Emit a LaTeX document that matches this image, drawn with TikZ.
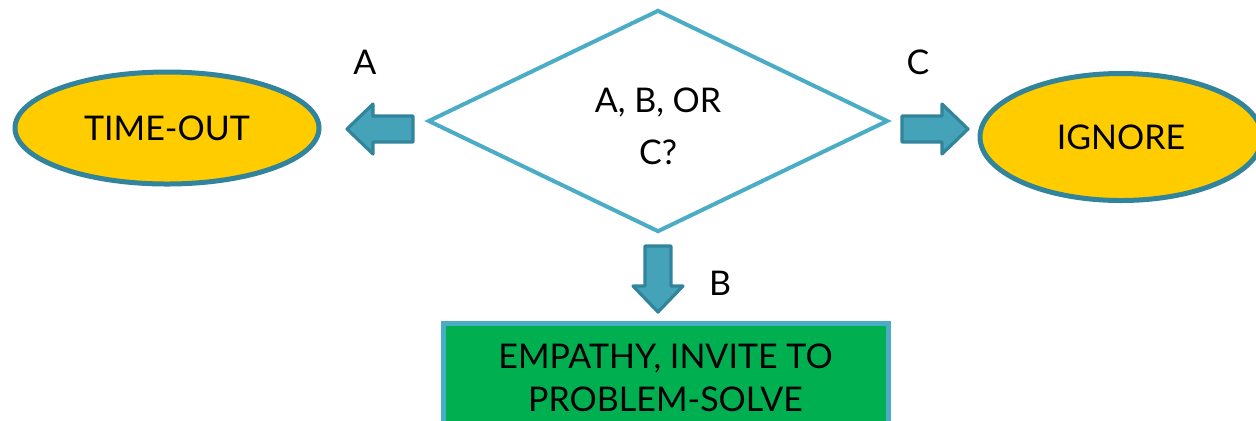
\documentclass[tikz,border=0pt]{standalone}
\usepackage{fontspec}
\setmainfont{Lato}
\usepackage{tikz}
\usetikzlibrary{shapes.geometric, positioning}
\definecolor{tealdark}{HTML}{31849B}
\definecolor{teallight}{HTML}{4BACC6}
\definecolor{tealfill}{HTML}{44A3B8}
\definecolor{gold}{HTML}{FFCC00}
\definecolor{grass}{HTML}{00B050}
\tikzset{
  choicebox/.style={diamond, draw=teallight, line width=2pt, fill=white, inner sep=0pt, align=center},
  actionoval/.style={ellipse, draw=tealdark, line width=2.5pt, fill=gold, inner sep=0pt},
  arrowline/.style={draw=tealdark, fill=tealfill, line width=1.6pt, line join=round},
  pics/blockarrow/.style={code={
    \draw[arrowline] (-16.5pt,-6.5pt) -- (3.5pt,-6.5pt) -- (3.5pt,-12.5pt) -- (16.5pt,0pt)
      -- (3.5pt,12.5pt) -- (3.5pt,6.5pt) -- (-16.5pt,6.5pt) -- cycle;}},
  pathlabel/.style={inner sep=0pt}
}

\begin{document}
\begin{tikzpicture}[x=0.5pt, y=-0.5pt, every node/.style={font=\fontsize{17}{26}\selectfont}]
        \useasboundingbox (0,0) rectangle (1256,420);
        % Decision
        \node (choice) [choicebox, minimum width=230pt, minimum height=111pt] at (658,121) {};
        \node (question) at (658,126) [align=center] {A, B, OR\\C?};
        % Outcomes
        \node (timeout) [actionoval, minimum width=152pt, minimum height=56pt] at (167,128) {TIME-OUT};
        \node (ignore) [actionoval, minimum width=141pt, minimum height=63.5pt] at (1121,137) {IGNORE};
        \node (solve) [draw=teallight, fill=grass, line width=2.5pt, minimum width=222.5pt, minimum height=54.5pt,
          align=center, font=\fontsize{17}{21.5}\selectfont] at (665.5,377.5) {EMPATHY, INVITE TO\\PROBLEM-SOLVE};
        % Block arrows
        \pic (toA) [rotate=180] at (380,129) {blockarrow};
        \pic (toC) at (935,129) {blockarrow};
        \pic (toB) [rotate=-90] at (658,279) {blockarrow};
        % Letters
        \node (labelA) [pathlabel] at (365,62) {A};
        \node (labelC) [pathlabel] at (918,62) {C};
        \node (labelB) [pathlabel] at (720,283) {B};
    \end{tikzpicture}
\end{document}
